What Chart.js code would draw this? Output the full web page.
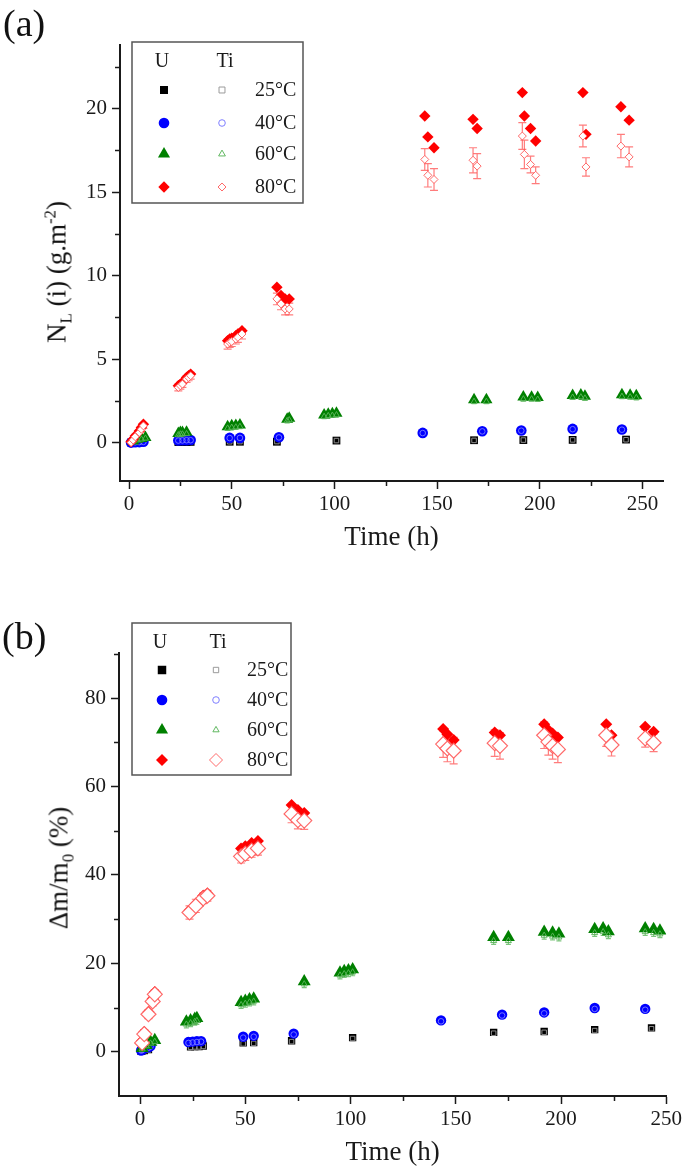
<!DOCTYPE html>
<html><head><meta charset="utf-8">
<script src="https://cdn.jsdelivr.net/npm/chart.js@4.4.1/dist/chart.umd.min.js"></script>
<style>
html,body{margin:0;padding:0;background:#fff;}
#wrap{position:relative;width:685px;height:1171px;overflow:hidden;font-family:"Liberation Serif","Times New Roman",serif;color:#111;}
#ca{position:absolute;left:0;top:0;}
#cb{position:absolute;left:0;top:585px;}
.lab{position:absolute;font-size:38px;line-height:1;}
.yt{position:absolute;font-size:27px;line-height:1;white-space:nowrap;transform:translate(-50%,-50%) rotate(-90deg);}
.yt sub,.yt sup{font-size:62%;line-height:0;}
</style></head>
<body><div id="wrap">
<canvas id="ca" width="685" height="585"></canvas>
<canvas id="cb" width="685" height="586"></canvas>
<div class="lab" style="left:3px;top:4px">(a)</div>
<div class="lab" style="left:2px;top:617px">(b)</div>
<div class="yt" style="left:57px;top:272px">N<sub>L</sub> (i) (g.m<sup>-2</sup>)</div>
<div class="yt" style="left:59px;top:868px">Δm/m<sub>0</sub> (%)</div>
</div>
<script>
// ---------- DATA ----------
const tempLabels = ['25°C', '40°C', '60°C', '80°C'];
const groupLabels = ['U', 'Ti'];
const xTitle = 'Time (h)';

// panel (a): NL(i) g.m-2
const xTicksA = [0, 50, 100, 150, 200, 250];
const xMinorA = [25, 75, 125, 175, 225];
const yTicksA = [0, 5, 10, 15, 20];
const yMinorA = [2.5, 7.5, 12.5, 17.5, 22.5];

const T25a = [1, 3, 5, 24, 26, 28, 30, 49, 54, 72, 101, 168, 192, 216, 242];
const U25a = [0.0, 0.0, 0.01, 0.03, 0.03, 0.03, 0.04, 0.05, 0.05, 0.05, 0.12, 0.14, 0.15, 0.16, 0.18];
const Ti25a = [0.0, 0.01, 0.01, 0.03, 0.03, 0.04, 0.04, 0.05, 0.06, 0.06, 0.12, 0.13, 0.15, 0.16, 0.17];
const E25a = [0.08, 0.08, 0.08, 0.08, 0.08, 0.08, 0.08, 0.08, 0.08, 0.08, 0.08, 0.08, 0.08, 0.08, 0.08];

const T40a = [1, 3, 5, 7, 24, 26, 28, 30, 49, 54, 73, 143, 172, 191, 216, 240];
const U40a = [0.0, 0.02, 0.03, 0.05, 0.13, 0.14, 0.14, 0.15, 0.28, 0.28, 0.32, 0.58, 0.68, 0.72, 0.82, 0.78];
const Ti40a = [0.0, 0.02, 0.03, 0.04, 0.12, 0.13, 0.14, 0.14, 0.27, 0.28, 0.31, 0.57, 0.67, 0.71, 0.8, 0.77];
const E40a = [0.06, 0.06, 0.06, 0.06, 0.06, 0.06, 0.06, 0.06, 0.06, 0.06, 0.06, 0.06, 0.06, 0.06, 0.06, 0.06];

const T60a = [2, 4, 6, 8, 24, 25, 26, 28, 48, 50, 52, 54, 77, 78, 95, 97, 99, 101, 168, 174, 192, 196, 199, 216, 220, 222, 240, 244, 247];
const U60a = [0.1, 0.2, 0.25, 0.3, 0.55, 0.6, 0.6, 0.62, 0.95, 1.0, 1.02, 1.05, 1.4, 1.45, 1.65, 1.7, 1.72, 1.75, 2.57, 2.57, 2.73, 2.72, 2.7, 2.82, 2.85, 2.78, 2.87, 2.84, 2.8];
const Ti60a = [0.08, 0.15, 0.2, 0.25, 0.45, 0.5, 0.5, 0.52, 0.85, 0.9, 0.92, 0.95, 1.3, 1.35, 1.55, 1.6, 1.62, 1.65, 2.45, 2.45, 2.6, 2.6, 2.58, 2.7, 2.72, 2.65, 2.75, 2.72, 2.68];
const E60a = [0.12, 0.12, 0.12, 0.12, 0.12, 0.12, 0.12, 0.12, 0.12, 0.12, 0.12, 0.12, 0.12, 0.12, 0.12, 0.12, 0.12, 0.12, 0.12, 0.12, 0.12, 0.12, 0.12, 0.12, 0.12, 0.12, 0.12, 0.12, 0.12];

const T80a = [1, 2, 3, 5, 6, 7, 24, 25, 26, 28, 29, 30, 48, 49, 50, 52, 53, 55, 72, 74, 76, 78, 144, 145.5, 148.5, 167.5, 169.5, 191.5, 192.5, 195.5, 198, 221, 222.5, 239.5, 243.5];
const U80a = [0.05, 0.2, 0.4, 0.7, 0.9, 1.1, 3.4, 3.5, 3.6, 3.9, 4.0, 4.1, 6.1, 6.2, 6.25, 6.4, 6.5, 6.7, 9.3, 8.8, 8.6, 8.6, 19.55, 18.3, 17.65, 19.35, 18.8, 20.95, 19.55, 18.8, 18.05, 20.95, 18.45, 20.1, 19.3];
const Ti80a = [0.0, 0.15, 0.35, 0.6, 0.8, 1.0, 3.3, 3.4, 3.5, 3.8, 3.9, 4.0, 5.9, 6.0, 6.05, 6.2, 6.3, 6.5, 8.6, 8.3, 8.0, 8.0, 16.95, 16.0, 15.75, 16.9, 16.55, 18.35, 17.25, 16.65, 16.0, 18.35, 16.5, 17.75, 17.1];
const E80a = [0.15, 0.15, 0.15, 0.15, 0.15, 0.15, 0.2, 0.2, 0.2, 0.2, 0.2, 0.2, 0.3, 0.3, 0.3, 0.3, 0.3, 0.3, 0.35, 0.35, 0.35, 0.35, 0.65, 0.7, 0.65, 0.75, 0.75, 0.8, 0.85, 0.5, 0.5, 0.65, 0.55, 0.7, 0.6];

// panel (b): Δm/m0 (%)
const xTicksB = [0, 50, 100, 150, 200, 250];
const xMinorB = [25, 75, 125, 175, 225];
const yTicksB = [0, 20, 40, 60, 80];
const yMinorB = [10, 30, 50, 70, 90];

const T25b = [0.5, 1, 2, 4, 24, 26, 28, 30, 49, 54, 72, 101, 168, 192, 216, 243];
const U25b = [0.1, 0.2, 0.3, 0.5, 1.1, 1.2, 1.2, 1.3, 2.0, 2.1, 2.5, 3.2, 4.4, 4.6, 5.0, 5.4];
const Ti25b = [0.1, 0.15, 0.25, 0.4, 1.0, 1.1, 1.1, 1.2, 1.8, 1.9, 2.3, 3.0, 4.2, 4.4, 4.8, 5.2];
const E25b = [0.4, 0.4, 0.4, 0.4, 0.4, 0.4, 0.4, 0.4, 0.4, 0.4, 0.4, 0.4, 0.4, 0.4, 0.4, 0.4];

const T40b = [0.5, 1, 2, 4, 5, 23, 25, 27, 29, 49, 54, 73, 143, 172, 192, 216, 240];
const U40b = [0.3, 0.5, 0.8, 1.0, 1.3, 2.2, 2.3, 2.4, 2.4, 3.4, 3.6, 4.1, 7.1, 8.4, 8.9, 9.9, 9.7];
const Ti40b = [0.3, 0.4, 0.7, 0.9, 1.2, 2.0, 2.1, 2.2, 2.3, 3.2, 3.4, 3.9, 6.9, 8.2, 8.7, 9.7, 9.5];
const E40b = [0.4, 0.4, 0.4, 0.4, 0.4, 0.4, 0.4, 0.4, 0.4, 0.4, 0.4, 0.4, 0.4, 0.4, 0.4, 0.4, 0.4];

const T60b = [1, 3, 5, 7, 22, 24, 26, 27, 48, 50, 52, 54, 78, 95, 97, 99, 101, 168, 175, 192, 196, 199, 216, 220, 222.5, 240, 244, 247];
const U60b = [0.8, 1.5, 2.2, 2.6, 6.8, 7.1, 7.4, 7.6, 11.2, 11.5, 11.8, 12.0, 15.9, 17.9, 18.2, 18.4, 18.6, 25.9, 25.9, 27.1, 26.9, 26.7, 27.7, 27.9, 27.2, 27.9, 27.7, 27.4];
const Ti60b = [0.6, 1.3, 1.9, 2.3, 6.2, 6.5, 6.8, 7.0, 10.6, 10.9, 11.2, 11.4, 15.3, 17.3, 17.6, 17.8, 18.0, 25.1, 25.1, 26.3, 26.1, 25.9, 26.9, 27.1, 26.4, 27.1, 26.9, 26.6];
const E60b = [0.8, 0.8, 0.8, 0.8, 0.8, 0.8, 0.8, 0.8, 0.8, 0.8, 0.8, 0.8, 0.8, 0.8, 0.8, 0.8, 0.8, 0.8, 0.8, 0.8, 0.8, 0.8, 0.8, 0.8, 0.8, 0.8, 0.8, 0.8];

const T80b = [1, 2, 4, 6, 7, 23.5, 26.5, 30, 32, 48, 50, 53, 56, 72, 75, 78, 144, 146, 149, 168.5, 171, 192, 194, 196, 198.5, 221.5, 224, 240, 244];
const U80b = [2.5, 4.5, 9.0, 12.0, 13.5, 32.0, 33.5, 35.3, 35.8, 46.0, 46.5, 47.2, 47.7, 55.8, 54.7, 54.0, 73.0, 71.8, 70.5, 72.2, 71.6, 74.1, 72.8, 72.0, 71.1, 74.1, 71.6, 73.5, 72.4];
const Ti80b = [2.0, 4.0, 8.5, 11.4, 13.0, 31.5, 33.0, 34.7, 35.3, 44.2, 44.8, 45.5, 46.0, 53.8, 52.4, 52.3, 69.6, 68.6, 68.1, 69.8, 69.2, 71.6, 70.1, 69.2, 68.4, 71.6, 69.4, 70.9, 69.9];
const E80b = [1, 1, 1, 1, 1, 1.5, 1.5, 1.2, 1.2, 1.5, 1.5, 1.5, 1.5, 2, 2, 2, 3, 3, 3, 3, 3, 3, 3, 3, 3, 2.5, 2.5, 2, 2];

// ---------- STYLE ----------
const FONT = '"Liberation Serif", "Times New Roman", serif';
const INK = '#1a1a1a';
const styles = ['rect', 'circle', 'triangle', 'rectRot'];
const uColors = ['#000000', '#0000ff', '#008000', '#ff0000'];
const tiColors = ['rgba(150,150,150,0.95)', 'rgba(120,120,255,0.95)', 'rgba(90,180,90,0.95)', 'rgba(255,90,90,0.9)'];

function drawMarker(ctx, style, x, y, r, fill, stroke, lw) {
  ctx.beginPath();
  if (style === 'rect') { const s = r * Math.SQRT1_2; ctx.rect(x - s, y - s, 2 * s, 2 * s); }
  else if (style === 'circle') { ctx.arc(x, y, r, 0, Math.PI * 2); }
  else if (style === 'triangle') {
    ctx.moveTo(x, y - r); ctx.lineTo(x + r * 0.866, y + r * 0.5); ctx.lineTo(x - r * 0.866, y + r * 0.5); ctx.closePath();
  } else { ctx.moveTo(x - r, y); ctx.lineTo(x, y - r); ctx.lineTo(x + r, y); ctx.lineTo(x, y + r); ctx.closePath(); }
  if (fill) { ctx.fillStyle = fill; ctx.fill(); }
  if (stroke) { ctx.strokeStyle = stroke; ctx.lineWidth = lw; ctx.stroke(); }
}

const panelLegend = {
  id: 'panelLegend',
  afterDraw(chart, args, o) {
    const ctx = chart.ctx;
    ctx.save();
    ctx.fillStyle = '#fff';
    ctx.fillRect(o.box[0], o.box[1], o.box[2] - o.box[0], o.box[3] - o.box[1]);
    ctx.strokeStyle = '#555'; ctx.lineWidth = 1.5;
    ctx.strokeRect(o.box[0], o.box[1], o.box[2] - o.box[0], o.box[3] - o.box[1]);
    ctx.fillStyle = INK; ctx.font = '20px ' + FONT; ctx.textBaseline = 'middle'; ctx.textAlign = 'center';
    ctx.fillText(groupLabels[0], o.uHdrX, o.hdrY);
    ctx.fillText(groupLabels[1], o.tiHdrX, o.hdrY);
    ctx.textAlign = 'left';
    o.rows.forEach((y, i) => {
      drawMarker(ctx, styles[i], o.uX, y, o.uR[i], uColors[i], null, 0);
      drawMarker(ctx, styles[i], o.tiX, y, o.tiR[i], null, tiColors[i], 1);
      ctx.fillStyle = INK; ctx.font = '20px ' + FONT;
      ctx.fillText(tempLabels[i], o.textX, y + 1);
    });
    ctx.restore();
  }
};

const errorBars = {
  id: 'errorBars',
  beforeDatasetsDraw(chart) {
    const ctx = chart.ctx, ys = chart.scales.y;
    ctx.save();
    chart.data.datasets.forEach((ds, i) => {
      if (!ds.errors) return;
      const meta = chart.getDatasetMeta(i);
      ctx.strokeStyle = ds.errColor; ctx.lineWidth = 1.2;
      meta.data.forEach((pt, j) => {
        const e = ds.errors[j]; if (!e) return;
        const v = ds.data[j].y;
        const y1 = ys.getPixelForValue(v + e), y2 = ys.getPixelForValue(v - e);
        const c = ds.capWidth / 2;
        ctx.beginPath();
        ctx.moveTo(pt.x, y1); ctx.lineTo(pt.x, y2);
        ctx.moveTo(pt.x - c, y1); ctx.lineTo(pt.x + c, y1);
        ctx.moveTo(pt.x - c, y2); ctx.lineTo(pt.x + c, y2);
        ctx.stroke();
      });
    });
    ctx.restore();
  }
};

const minorTicks = {
  id: 'minorTicks',
  afterDraw(chart, args, o) {
    const ctx = chart.ctx, xs = chart.scales.x, ys = chart.scales.y;
    ctx.save(); ctx.strokeStyle = INK; ctx.lineWidth = 1.5;
    o.x.forEach(v => { const p = Math.round(xs.getPixelForValue(v)) + 0.5; ctx.beginPath(); ctx.moveTo(p, xs.top); ctx.lineTo(p, xs.top + 5); ctx.stroke(); });
    o.y.forEach(v => { const p = Math.round(ys.getPixelForValue(v)) + 0.5; ctx.beginPath(); ctx.moveTo(ys.right, p); ctx.lineTo(ys.right - 5, p); ctx.stroke(); });
    ctx.restore();
  }
};

function ds(label, xs, ys, style, r, fill, stroke, lw, errs, errColor, cap) {
  return {
    label, data: xs.map((x, i) => ({ x, y: ys[i] })), showLine: false,
    pointStyle: style, pointRadius: r, pointHoverRadius: r,
    backgroundColor: fill, borderColor: stroke, borderWidth: lw, pointBorderWidth: lw,
    errors: errs, errColor, capWidth: cap
  };
}

function axisCommon(ticksArr, min, max, fit, isX, titleOpt) {
  const a = {
    type: 'linear', min, max,
    afterBuildTicks: s => { s.ticks = ticksArr.map(v => ({ value: v })); },
    afterFit: fit,
    grid: { drawOnChartArea: false, drawTicks: true, tickLength: 8, tickWidth: 1.5, tickColor: INK },
    border: { display: true, color: INK, width: 2 },
    ticks: { font: { family: FONT, size: 21 }, color: INK, padding: isX ? 3 : 5, maxRotation: 0, autoSkip: false }
  };
  if (titleOpt) a.title = titleOpt;
  return a;
}

function makeChart(id, cfg) {
  new Chart(document.getElementById(id), {
    type: 'scatter',
    data: { datasets: cfg.datasets },
    options: {
      responsive: false, animation: false, events: [],
      layout: { padding: cfg.padding },
      plugins: { legend: { display: false }, tooltip: { enabled: false }, panelLegend: cfg.legend, minorTicks: cfg.minor },
      scales: {
        x: axisCommon(cfg.xTicks, cfg.xMin, cfg.xMax, s => { s.height = cfg.xHeight; }, true,
          { display: true, text: xTitle, color: INK, font: { family: FONT, size: 27 }, padding: { top: 0, bottom: cfg.titlePad } }),
        y: axisCommon(cfg.yTicks, cfg.yMin, cfg.yMax, s => { s.width = cfg.yWidth; }, false, null)
      }
    },
    plugins: [errorBars, minorTicks, panelLegend]
  });
}

const white = 'rgba(255,255,255,0)';

makeChart('ca', {
  padding: { top: 45, right: 22, left: 0, bottom: 0 },
  xMin: -4.4, xMax: 260, yMin: -2.3, yMax: 23.8,
  xTicks: xTicksA, yTicks: yTicksA, xHeight: 104, yWidth: 120, titlePad: 31,
  minor: { x: xMinorA, y: yMinorA },
  legend: { box: [132, 42, 303, 203], hdrY: 62, uHdrX: 162, tiHdrX: 225, uX: 164, tiX: 222, textX: 255,
    rows: [90, 123, 154, 187], uR: [5.7, 5.3, 7, 5.7], tiR: [4.2, 3.3, 3.9, 4] },
  datasets: [
    ds(groupLabels[1] + ' ' + tempLabels[3], T80a, Ti80a, 'rectRot', 4, '#fff', tiColors[3], 1, E80a, 'rgba(255,80,80,0.75)', 8),
    ds(groupLabels[0] + ' ' + tempLabels[3], T80a, U80a, 'rectRot', 5.7, uColors[3], uColors[3], 0, null),
    ds(groupLabels[1] + ' ' + tempLabels[2], T60a, Ti60a, 'triangle', 3.5, white, tiColors[2], 1, E60a, 'rgba(110,190,110,0.9)', 5),
    ds(groupLabels[0] + ' ' + tempLabels[2], T60a, U60a, 'triangle', 7, uColors[2], uColors[2], 0, null),
    ds(groupLabels[1] + ' ' + tempLabels[1], T40a, Ti40a, 'circle', 2.8, white, tiColors[1], 1, E40a, 'rgba(150,150,255,0.9)', 4),
    ds(groupLabels[0] + ' ' + tempLabels[1], T40a, U40a, 'circle', 5.3, uColors[1], uColors[1], 0, null),
    ds(groupLabels[1] + ' ' + tempLabels[0], T25a, Ti25a, 'rect', 3.2, white, tiColors[0], 1, E25a, 'rgba(180,180,180,0.9)', 4),
    ds(groupLabels[0] + ' ' + tempLabels[0], T25a, U25a, 'rect', 5.5, uColors[0], uColors[0], 0, null)
  ]
});

makeChart('cb', {
  padding: { top: 68, right: 15, left: 0, bottom: 0 },
  xMin: -10, xMax: 250, yMin: -10, yMax: 90.2,
  xTicks: xTicksB, yTicks: yTicksB, xHeight: 75, yWidth: 119, titlePad: 2,
  minor: { x: xMinorB, y: yMinorB },
  legend: { box: [132, 38, 291, 190], hdrY: 58, uHdrX: 160, tiHdrX: 218, uX: 162, tiX: 216, textX: 247,
    rows: [85, 115, 145, 175], uR: [6, 5.3, 7, 6], tiR: [3.8, 3.3, 3.6, 6.5] },
  datasets: [
    ds(groupLabels[1] + ' ' + tempLabels[3], T80b, Ti80b, 'rectRot', 7.5, '#fff', tiColors[3], 1.2, E80b, 'rgba(255,80,80,0.75)', 8),
    ds(groupLabels[0] + ' ' + tempLabels[3], T80b, U80b, 'rectRot', 6, uColors[3], uColors[3], 0, null),
    ds(groupLabels[1] + ' ' + tempLabels[2], T60b, Ti60b, 'triangle', 3.5, white, tiColors[2], 1, E60b, 'rgba(110,190,110,0.9)', 5),
    ds(groupLabels[0] + ' ' + tempLabels[2], T60b, U60b, 'triangle', 7.5, uColors[2], uColors[2], 0, null),
    ds(groupLabels[1] + ' ' + tempLabels[1], T40b, Ti40b, 'circle', 2.8, white, tiColors[1], 1, E40b, 'rgba(150,150,255,0.9)', 4),
    ds(groupLabels[0] + ' ' + tempLabels[1], T40b, U40b, 'circle', 5.2, uColors[1], uColors[1], 0, null),
    ds(groupLabels[1] + ' ' + tempLabels[0], T25b, Ti25b, 'rect', 3.2, white, tiColors[0], 1, E25b, 'rgba(180,180,180,0.9)', 4),
    ds(groupLabels[0] + ' ' + tempLabels[0], T25b, U25b, 'rect', 5.2, uColors[0], uColors[0], 0, null)
  ]
});
</script>
</body></html>
